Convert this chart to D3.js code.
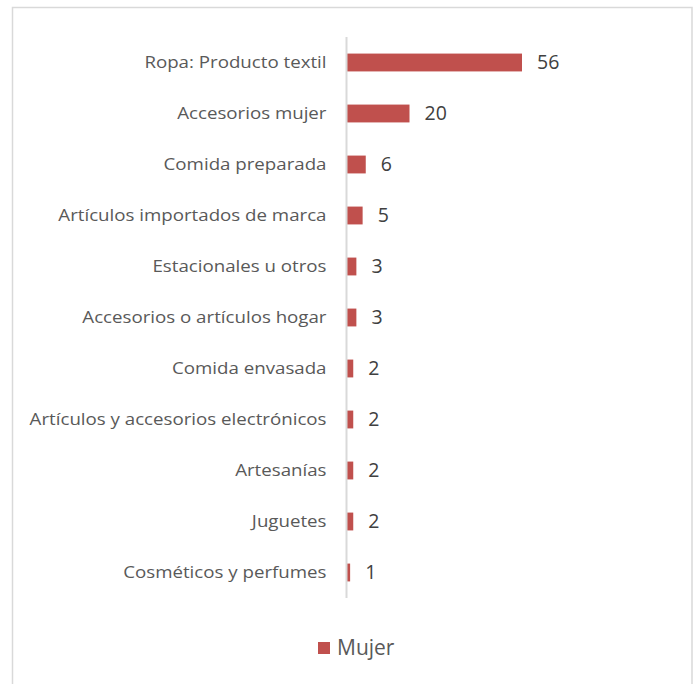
<!DOCTYPE html>
<html><head><meta charset="utf-8">
<script src="https://cdn.jsdelivr.net/npm/d3@7"></script>
<style>body{margin:0;background:#fff}svg{display:block}</style>
</head><body>
<svg id="c" width="695" height="684"></svg>
<script>
const categories = ["Ropa: Producto textil","Accesorios mujer","Comida preparada","Artículos importados de marca","Estacionales u otros","Accesorios o artículos hogar","Comida envasada","Artículos y accesorios electrónicos","Artesanías","Juguetes","Cosméticos y perfumes"];
const values = [56,20,6,5,3,3,2,2,2,2,1];
const seriesName = "Mujer";

const svg = d3.select("#c");
const font = "'Open Sans', sans-serif";
svg.append("rect").attr("x",12.5).attr("y",7.5).attr("width",679.5).attr("height",690)
  .attr("fill","#fff").attr("stroke","#d9d9d9").attr("stroke-width",1.5);

const x = d3.scaleLinear().domain([0,56]).range([347,522]);
const y = d3.scaleBand().domain(categories).range([37,598]).paddingInner(0.65).paddingOuter(0.325);

svg.append("g").selectAll("rect").data(categories).join("rect")
  .attr("x",x(0)).attr("y",d=>y(d)).attr("height",y.bandwidth())
  .attr("width",(d,i)=>x(values[i])-x(0)).attr("fill","#c0504d");

const axis = svg.append("g").attr("transform",`translate(${x(0)-0.5},0)`)
  .call(d3.axisLeft(y).tickSize(0).tickPadding(20));
axis.select(".domain").attr("stroke","#d9d9d9").attr("stroke-width",2).attr("d","M0,37V598");
axis.selectAll(".tick text").attr("font-family",font).attr("font-size",18.7).attr("fill","#595959")
  .attr("transform","scale(1,0.92)").attr("dy","0.32em");

svg.append("g").selectAll("text").data(categories).join("text")
  .attr("x",(d,i)=>x(values[i])+15).attr("y",d=>y(d)+y.bandwidth()/2)
  .attr("dy","0.35em").attr("font-family",font).attr("font-size",19.5).attr("fill","#404040")
  .text((d,i)=>values[i]);

const lg = svg.append("g");
lg.append("rect").attr("x",318).attr("y",642).attr("width",12).attr("height",12).attr("fill","#c0504d");
lg.append("text").attr("x",337).attr("y",648).attr("dy","0.35em").attr("font-family",font)
  .attr("font-size",21).attr("fill","#595959").text(seriesName);
</script>
</body></html>
